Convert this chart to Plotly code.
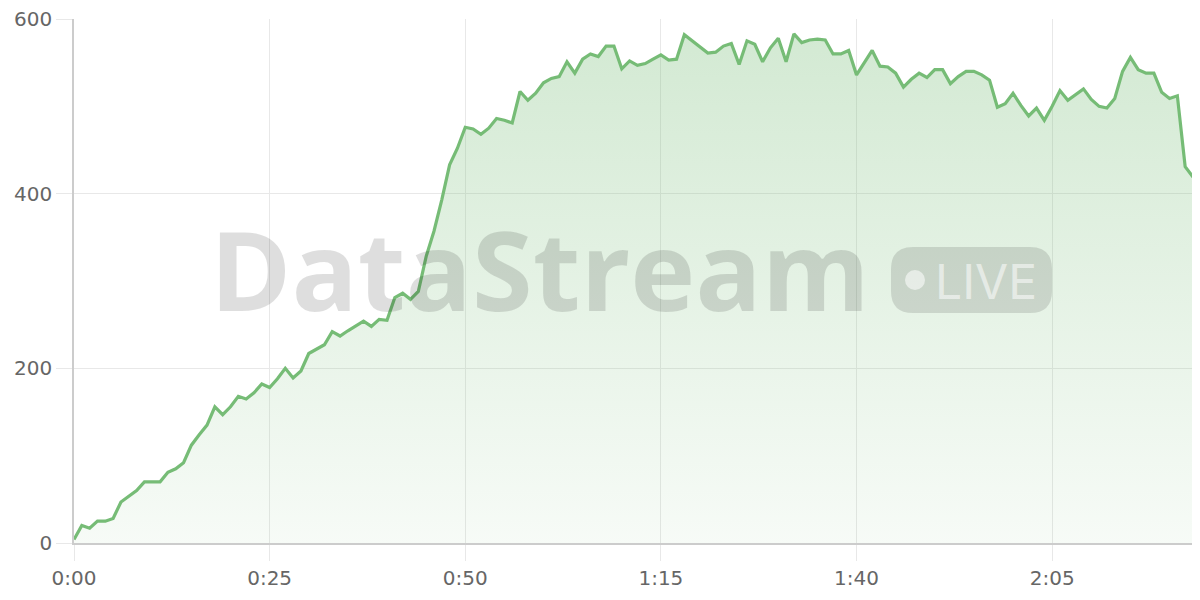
import plotly.graph_objects as go

# ---- data ----
seconds = list(range(144))
values = [
    4, 20, 17, 25, 25, 28, 47, 53, 60, 70,
    70, 70, 81, 85, 92, 112, 124, 135, 156, 147,
    156, 168, 165, 172, 182, 178, 188, 200, 189, 197,
    217, 222, 227, 242, 237, 243, 249, 254, 248, 256,
    255, 281, 286, 279, 288, 328, 357, 393, 433, 452,
    476, 474, 468, 475, 486, 484, 481, 517, 507, 515,
    527, 532, 534, 551, 538, 554, 560, 557, 569, 569,
    543, 552, 547, 549, 554, 559, 553, 554, 582, 575,
    569, 561, 562, 569, 572, 548, 575, 571, 551, 567,
    578, 551, 583, 573, 576, 577, 576, 560, 560, 564,
    536, 550, 564, 546, 545, 538, 522, 531, 538, 533,
    542, 542, 526, 534, 540, 540, 536, 530, 499, 503,
    515, 501, 489, 498, 484, 500, 518, 507, 514, 520,
    508, 500, 498, 509, 540, 556, 542, 538, 538, 516,
    509, 512, 431, 419,
]
x_tick_vals = [0, 25, 50, 75, 100, 125]
x_tick_text = ["0:00", "0:25", "0:50", "1:15", "1:40", "2:05"]
y_tick_vals = [0, 200, 400, 600]

GREEN = "rgb(118,188,118)"
GRID = "#e8e8e8"
AXIS = "#cccccc"
TICKFONT = "DejaVu Sans"

# page body has an 8px margin; figure sized to fill the rest of the window
OFF = 8
FIG_W, FIG_H = 1200 - OFF, 600 - OFF
# plot area in window pixels
L, R, T, B = 74, 1193, 19, 543
W, H = R - L, B - T
def px(x):
    return (x - L) / W
def py(y):
    return (B - y) / H

fig = go.Figure()
fig.add_trace(go.Scatter(
    x=seconds, y=values, mode="lines",
    line=dict(color=GREEN, width=3.2),
    fill="tozeroy",
    fillgradient=dict(type="vertical", start=0, stop=600,
                      colorscale=[[0, "rgba(118,188,118,0.06)"],
                                  [1, "rgba(118,188,118,0.33)"]]),
    hoverinfo="skip", showlegend=False, cliponaxis=False,
))

# watermark
fig.add_annotation(text="<b>DataStream</b>", xref="paper", yref="paper",
                   x=px(540), y=py(268), xanchor="center", yanchor="middle",
                   showarrow=False,
                   font=dict(family="Open Sans", size=110, color="rgba(0,0,0,0.13)"))
bx0, bx1, by0, by1, r = 891, 1052, 247, 313, 22
path = (f"M {px(bx0 + r)},{py(by0)} L {px(bx1 - r)},{py(by0)} "
        f"Q {px(bx1)},{py(by0)} {px(bx1)},{py(by0 + r)} "
        f"L {px(bx1)},{py(by1 - r)} Q {px(bx1)},{py(by1)} {px(bx1 - r)},{py(by1)} "
        f"L {px(bx0 + r)},{py(by1)} Q {px(bx0)},{py(by1)} {px(bx0)},{py(by1 - r)} "
        f"L {px(bx0)},{py(by0 + r)} Q {px(bx0)},{py(by0)} {px(bx0 + r)},{py(by0)} Z")
fig.add_shape(type="path", path=path, xref="paper", yref="paper",
              fillcolor="rgba(0,0,0,0.12)", line=dict(width=0), layer="above")
fig.add_shape(type="circle", xref="paper", yref="paper",
              x0=px(905), x1=px(925), y0=py(290), y1=py(270),
              fillcolor="rgba(255,255,255,0.55)", line=dict(width=0), layer="above")
fig.add_annotation(text="LIVE", xref="paper", yref="paper",
                   x=px(986), y=py(281), xanchor="center", yanchor="middle",
                   showarrow=False,
                   font=dict(family="Inter", size=48, color="rgba(255,255,255,0.55)"))

common = dict(showgrid=True, gridcolor=GRID, gridwidth=1,
              ticks="outside", ticklen=16, tickcolor=GRID, tickwidth=1,
              showline=True, linecolor=AXIS, linewidth=1.5, zeroline=False,
              ticklabeloverflow="allow", automargin=False,
              tickfont=dict(family=TICKFONT, size=20, color="#666666"))
fig.update_xaxes(range=[0, 143], tickvals=x_tick_vals, ticktext=x_tick_text, **common)
fig.update_yaxes(range=[0, 600], tickvals=y_tick_vals, **common)

fig.update_layout(width=FIG_W, height=FIG_H,
                  margin=dict(l=L - OFF, r=1200 - R, t=T - OFF, b=600 - B,
                              autoexpand=False),
                  plot_bgcolor="white", paper_bgcolor="white")

fig.write_html("out.html")
